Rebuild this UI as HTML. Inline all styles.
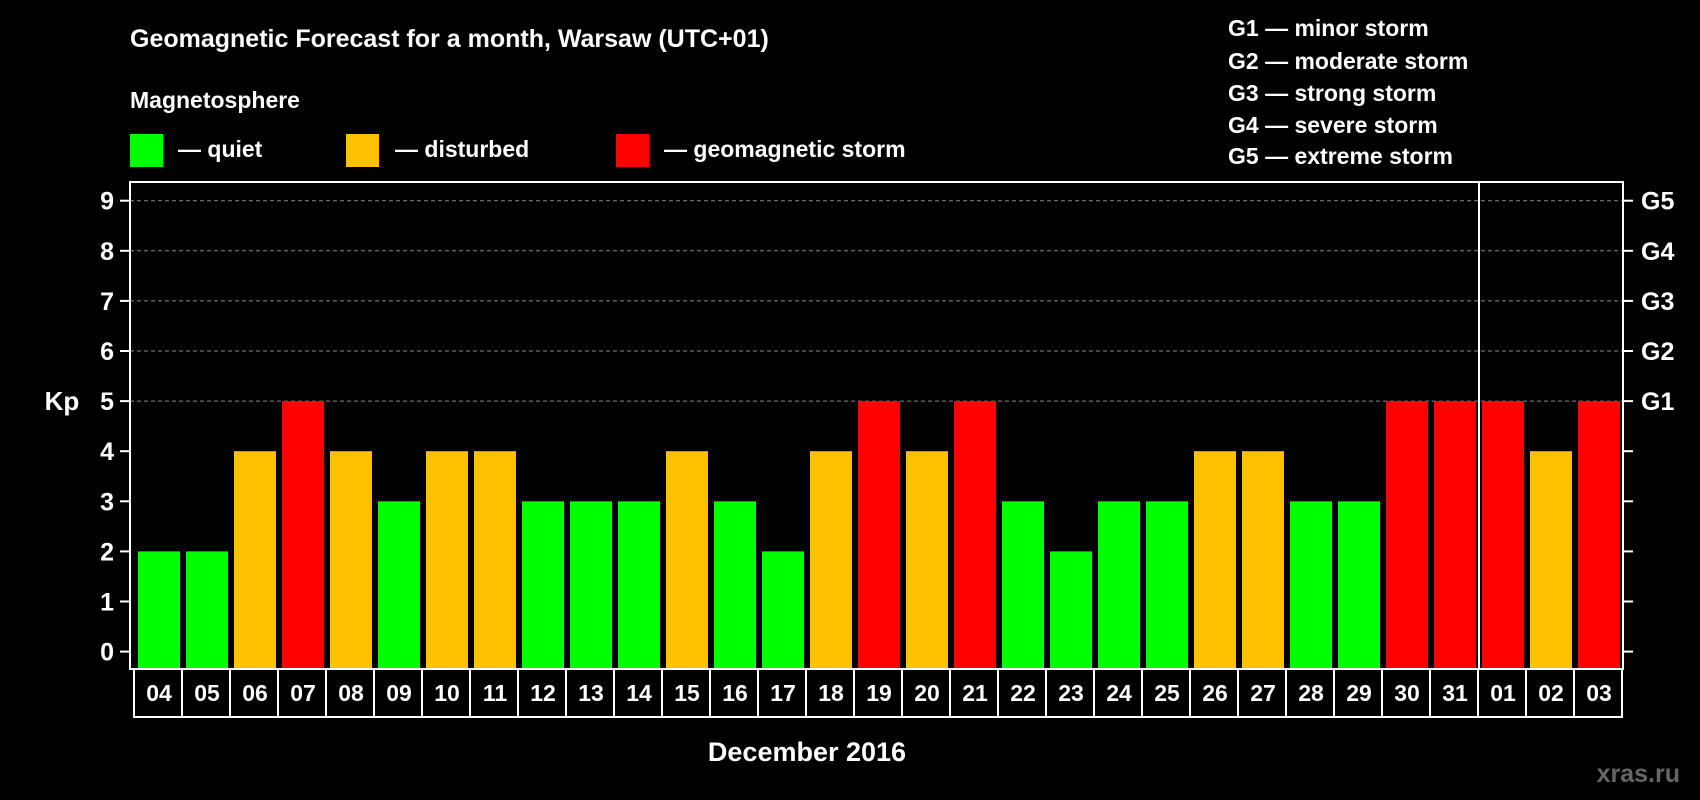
<!DOCTYPE html>
<html><head><meta charset="utf-8"><style>
html,body{margin:0;padding:0;background:#000;}
svg{display:block;font-family:"Liberation Sans",Arial,sans-serif;font-weight:bold;}
</style></head><body>
<svg id="chart" width="1700" height="800" viewBox="0 0 1700 800">
<rect width="1700" height="800" fill="#000"/>
<text x="130" y="47" fill="#fff" font-size="25">Geomagnetic Forecast for a month, Warsaw (UTC+01)</text>
<text x="130" y="108" fill="#fff" font-size="23">Magnetosphere</text>
<g>
<rect x="130" y="134" width="33" height="33" fill="#00ff00"/>
<text x="178" y="157" fill="#fff" font-size="23">— quiet</text>
<rect x="346" y="134" width="33" height="33" fill="#ffc000"/>
<text x="395" y="157" fill="#fff" font-size="23">— disturbed</text>
<rect x="616" y="134" width="33" height="33" fill="#ff0000"/>
<text x="664" y="157" fill="#fff" font-size="23">— geomagnetic storm</text>
</g>
<g fill="#fff" font-size="23">
<text x="1228" y="36">G1 — minor storm</text>
<text x="1228" y="69">G2 — moderate storm</text>
<text x="1228" y="101">G3 — strong storm</text>
<text x="1228" y="133">G4 — severe storm</text>
<text x="1228" y="164">G5 — extreme storm</text>
</g>
<g id="plot"></g>
<text x="62" y="410" fill="#fff" font-size="26" text-anchor="middle">Kp</text>
<text x="807" y="761" fill="#fff" font-size="27" text-anchor="middle">December 2016</text>
<text x="1680" y="782" fill="#666" font-size="25" text-anchor="end">xras.ru</text>
</svg>
<script>
const days = ["04","05","06","07","08","09","10","11","12","13","14","15","16","17","18","19","20","21","22","23","24","25","26","27","28","29","30","31","01","02","03"];
const kpValues = [2,2,4,5,4,3,4,4,3,3,3,4,3,2,4,5,4,5,3,2,3,3,4,4,3,3,5,5,5,4,5];
const yTicks = [0,1,2,3,4,5,6,7,8,9];
const gLabels = ["G1","G2","G3","G4","G5"];
const gLevels = [5,6,7,8,9];
const monthBreakIndex = 28;

const NS = "http://www.w3.org/2000/svg";
const plot = document.getElementById("plot");
const L = 130, R = 1623, T = 182, B = 669;
const y0 = 651.6, unit = 50.1;
const slot = 48, barStart = 138, barW = 42;
function yScale(v){ return y0 - v*unit; }
function xScale(i){ return barStart + i*slot; }
function mk(tag, attrs){ const e = document.createElementNS(NS, tag); for (const k in attrs) e.setAttribute(k, attrs[k]); plot.appendChild(e); return e; }

gLevels.forEach((lv, i) => {
  const g = mk("line", {x1:L, x2:R, y1:yScale(lv), y2:yScale(lv), stroke:"#8a8a8a", "stroke-width":1, "stroke-dasharray":"4,3"});
  
  
  const t = mk("text", {x:1641, y:yScale(lv)+9, fill:"#fff", "font-size":25});
  t.textContent = gLabels[i];
  
  
});

kpValues.forEach((v, i) => {
  const col = v >= 5 ? "#ff0000" : (v >= 4 ? "#ffc000" : "#00ff00");
  const r = mk("rect", {x:xScale(i), y:yScale(v), width:barW, height:B - yScale(v), fill:col});
  
  
  const c = mk("rect", {x:xScale(i) - 4, y:B, width:slot, height:48, fill:"none", stroke:"#fff", "stroke-width":2});
  
  
  const t = mk("text", {x:xScale(i) + barW/2, y:B + 32, fill:"#fff", "font-size":23, "text-anchor":"middle"});
  t.textContent = days[i];
  
  
});

yTicks.forEach(v => {
  const tl = mk("line", {x1:120, x2:L, y1:yScale(v), y2:yScale(v), stroke:"#fff", "stroke-width":2});
  
  
  const tr = mk("line", {x1:R, x2:1633, y1:yScale(v), y2:yScale(v), stroke:"#fff", "stroke-width":2});
  
  
  const t = mk("text", {x:114, y:yScale(v)+9, fill:"#fff", "font-size":25, "text-anchor":"end"});
  t.textContent = v;
  
  
});

const sx = xScale(monthBreakIndex) - 3;
const sep = mk("line", {x1:sx, x2:sx, y1:T, y2:B, stroke:"#fff", "stroke-width":2});



const frame = mk("rect", {x:L, y:T, width:R-L, height:B-T, fill:"none", stroke:"#fff", "stroke-width":2});


</script>
</body></html>
